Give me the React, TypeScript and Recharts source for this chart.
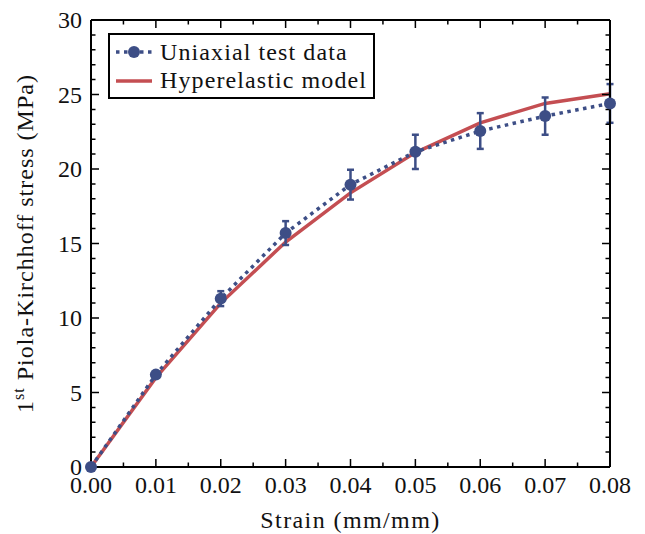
import React from "react";
import {
  LineChart,
  Line,
  XAxis,
  YAxis,
  ErrorBar,
  Legend,
  Label,
} from "recharts";

// strain values (mm/mm)
const strain = [0, 0.01, 0.02, 0.03, 0.04, 0.05, 0.06, 0.07, 0.08];
// uniaxial test data (MPa) and its error
const testStress = [0, 6.2, 11.3, 15.7, 18.95, 21.15, 22.55, 23.55, 24.4];
const testErr = [0, 0.2, 0.5, 0.8, 1.0, 1.15, 1.2, 1.25, 1.3];
// hyperelastic model (MPa)
const modelStress = [0, 6.0, 11.0, 15.1, 18.4, 21.1, 23.1, 24.4, 25.05];

const xMajor = [0, 0.01, 0.02, 0.03, 0.04, 0.05, 0.06, 0.07, 0.08];
const xMinor = [0.005, 0.015, 0.025, 0.035, 0.045, 0.055, 0.065, 0.075];
const yMajor = [0, 5, 10, 15, 20, 25, 30];
const yMinor = Array.from({ length: 31 }, (_, i) => i).filter((v) => v % 5 !== 0);

const X_MIN = xMajor[0];
const X_MAX = xMajor[xMajor.length - 1];
const Y_MIN = yMajor[0];
const Y_MAX = yMajor[yMajor.length - 1];

const BLUE = "#3d4e86";
const RED = "#c44e52";
const FONT = "Liberation Serif";
const MAJOR = 8;
const MINOR = 4.5;

const data = strain.map((s, i) => ({
  strain: s,
  test: testStress[i],
  err: testErr[i],
  model: modelStress[i],
}));

// inward tick marks along an axis box (placed from the axis' own view box)
const xMarks = (vb: any, edgeY: number, dir: number) => {
  const px = (v: number) => vb.x + ((v - X_MIN) / (X_MAX - X_MIN)) * vb.width;
  const d =
    xMajor.map((v) => `M${px(v)},${edgeY}v${dir * MAJOR}`).join("") +
    xMinor.map((v) => `M${px(v)},${edgeY}v${dir * MINOR}`).join("");
  return <path d={d} stroke="#000" strokeWidth={1.5} fill="none" />;
};
const yMarks = (vb: any, edgeX: number, dir: number) => {
  const py = (v: number) => vb.y + vb.height - ((v - Y_MIN) / (Y_MAX - Y_MIN)) * vb.height;
  const d =
    yMajor.map((v) => `M${edgeX},${py(v)}h${dir * MAJOR}`).join("") +
    yMinor.map((v) => `M${edgeX},${py(v)}h${dir * MINOR}`).join("");
  return <path d={d} stroke="#000" strokeWidth={1.5} fill="none" />;
};

const BottomTick = (props: any) => {
  const { x, y, payload } = props;
  return (
    <text x={x} y={y + 26} textAnchor="middle" fontFamily={FONT} fontSize={24} fill="#111">
      {payload.value.toFixed(2)}
    </text>
  );
};

const LeftTick = (props: any) => {
  const { x, y, payload } = props;
  return (
    <text x={x - 9} y={y + 8} textAnchor="end" fontFamily={FONT} fontSize={24} fill="#111">
      {payload.value}
    </text>
  );
};

const XLabel = (props: any) => {
  const { viewBox } = props;
  return (
    <g>
      {xMarks(viewBox, viewBox.y, -1)}
      <text
        x={viewBox.x + viewBox.width / 2}
        y={viewBox.y + 61}
        textAnchor="middle"
        fontFamily={FONT}
        fontSize={24}
        letterSpacing={1.4}
        fill="#111"
      >
        Strain (mm/mm)
      </text>
    </g>
  );
};

const TopMarks = (props: any) => {
  const { viewBox } = props;
  return xMarks(viewBox, viewBox.y + viewBox.height, 1);
};

const YLabel = (props: any) => {
  const { viewBox } = props;
  const cx = 25;
  const cy = viewBox.y + viewBox.height / 2;
  return (
    <g>
      {yMarks(viewBox, viewBox.x + viewBox.width, 1)}
      <text
        x={cx}
        y={cy}
        transform={`rotate(-90, ${cx}, ${cy})`}
        textAnchor="middle"
        fontFamily={FONT}
        fontSize={24}
        letterSpacing={1.0}
        fill="#111"
      >
        <tspan>1</tspan>
        <tspan fontSize={16} dy={-9}>st</tspan>
        <tspan dy={9}> Piola-Kirchhoff stress (MPa)</tspan>
      </text>
    </g>
  );
};

const RightMarks = (props: any) => {
  const { viewBox } = props;
  return yMarks(viewBox, viewBox.x, -1);
};

const LegendBox = () => (
  <svg width={267} height={66} style={{ display: "block" }}>
    <rect x={1} y={1} width={265} height={64} fill="#fff" stroke="#000" strokeWidth={2} />
    <line x1={8} x2={44} y1={19} y2={19} stroke={BLUE} strokeWidth={3.5} strokeDasharray="3.5 4.5" />
    <circle cx={26} cy={19} r={6} fill={BLUE} />
    <text x={52} y={27} fontFamily={FONT} fontSize={24} letterSpacing={1.1} fill="#111">
      Uniaxial test data
    </text>
    <line x1={8} x2={44} y1={48} y2={48} stroke={RED} strokeWidth={3.5} />
    <text x={52} y={55} fontFamily={FONT} fontSize={24} letterSpacing={1.1} fill="#111">
      Hyperelastic model
    </text>
  </svg>
);

const axisLine = { stroke: "#000", strokeWidth: 2 };

export default function App() {
  return (
    <LineChart
      width={637}
      height={526}
      data={data}
      margin={{ top: 11, right: 34, bottom: 17, left: 23 }}
    >
      <XAxis
        xAxisId="bottom"
        dataKey="strain"
        type="number"
        domain={[X_MIN, X_MAX]}
        ticks={xMajor}
        tick={<BottomTick />}
        tickLine={false}
        tickSize={0}
        tickMargin={0}
        height={50}
        interval={0}
        axisLine={axisLine}
      >
        <Label content={<XLabel />} />
      </XAxis>
      <XAxis
        xAxisId="top"
        orientation="top"
        dataKey="strain"
        type="number"
        domain={[X_MIN, X_MAX]}
        ticks={xMajor}
        tick={false}
        tickLine={false}
        height={1}
        axisLine={axisLine}
      >
        <Label content={<TopMarks />} />
      </XAxis>
      <YAxis
        yAxisId="left"
        type="number"
        domain={[Y_MIN, Y_MAX]}
        ticks={yMajor}
        tick={<LeftTick />}
        tickLine={false}
        tickSize={0}
        tickMargin={0}
        width={60}
        interval={0}
        axisLine={axisLine}
      >
        <Label content={<YLabel />} />
      </YAxis>
      <YAxis
        yAxisId="right"
        orientation="right"
        type="number"
        domain={[Y_MIN, Y_MAX]}
        ticks={yMajor}
        tick={false}
        tickLine={false}
        width={1}
        axisLine={axisLine}
      >
        <Label content={<RightMarks />} />
      </YAxis>
      <Line
        xAxisId="bottom"
        yAxisId="left"
        dataKey="model"
        type="linear"
        stroke={RED}
        strokeWidth={3.5}
        dot={false}
        activeDot={false}
        isAnimationActive={false}
      />
      <Line
        xAxisId="bottom"
        yAxisId="left"
        dataKey="test"
        type="linear"
        stroke={BLUE}
        strokeWidth={3.5}
        strokeDasharray="3.5 4.5"
        dot={{ r: 6, fill: BLUE, stroke: BLUE, strokeWidth: 0, strokeDasharray: "" }}
        activeDot={false}
        isAnimationActive={false}
      >
        <ErrorBar dataKey="err" direction="y" width={3.5} strokeWidth={2.5} stroke={BLUE} />
      </Line>
      <Legend
        content={<LegendBox />}
        layout="horizontal"
        align="center"
        verticalAlign="middle"
        wrapperStyle={{ position: "absolute", left: 100, top: 25, width: 267, height: 66 }}
      />
    </LineChart>
  );
}
